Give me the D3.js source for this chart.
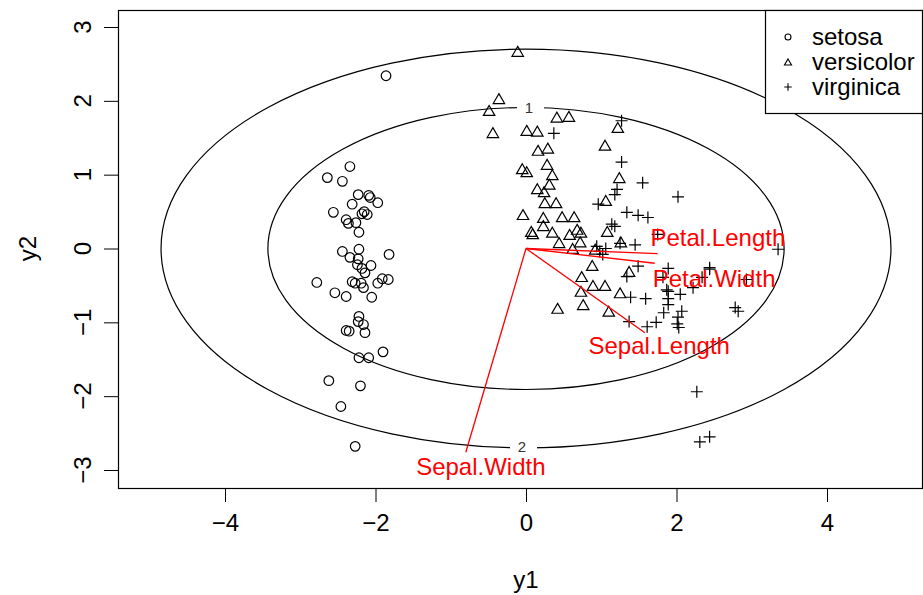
<!DOCTYPE html>
<html>
<head>
<meta charset="utf-8">
<script src="https://cdn.jsdelivr.net/npm/d3@7"></script>
<style>
  body { margin: 0; background: #fff; }
  text { font-family: "Liberation Sans", Arial, sans-serif; }
</style>
</head>
<body>
<div id="main"></div>
<script>
// canonical scores
let setosa = [
  [-1.86, 2.34], [-2.34, 1.11], [-2.64, 0.96], [-2.44, 0.91], [-2.23, 0.73],
  [-2.09, 0.72], [-2.07, 0.69], [-1.97, 0.62], [-2.31, 0.60], [-2.56, 0.49],
  [-2.15, 0.50], [-2.11, 0.46], [-2.18, 0.47], [-2.39, 0.39], [-2.36, 0.34],
  [-2.26, 0.35], [-2.22, 0.22], [-2.44, -0.04], [-2.22, -0.01], [-2.34, -0.12],
  [-1.82, -0.08], [-2.23, -0.14], [-2.24, -0.22], [-2.06, -0.23], [-2.18, -0.27],
  [-2.14, -0.33], [-2.78, -0.46], [-2.31, -0.45], [-2.27, -0.47], [-2.19, -0.47],
  [-2.16, -0.53], [-1.91, -0.41], [-1.83, -0.42], [-1.97, -0.47], [-2.54, -0.60],
  [-2.39, -0.65], [-2.05, -0.66], [-2.22, -0.92], [-2.23, -0.99], [-2.16, -1.03],
  [-2.39, -1.11], [-2.35, -1.12], [-2.14, -1.14], [-2.22, -1.48], [-2.09, -1.48],
  [-1.90, -1.40], [-2.62, -1.79], [-2.20, -1.86], [-2.46, -2.14], [-2.27, -2.68]
]
let versicolor = [
  [-0.11, 2.67], [-0.36, 2.03], [-0.49, 1.87], [0.41, 1.78], [0.57, 1.79],
  [1.22, 1.64], [-0.44, 1.57], [0.01, 1.60], [0.15, 1.59], [1.05, 1.40],
  [0.16, 1.33], [0.29, 1.36], [0.28, 1.14], [-0.05, 1.08], [0.01, 1.04],
  [0.35, 1.00], [1.24, 0.96], [0.31, 0.87], [0.15, 0.81], [0.24, 0.77],
  [1.06, 0.65], [0.25, 0.62], [0.40, 0.62], [-0.04, 0.46], [0.23, 0.42],
  [0.48, 0.43], [0.64, 0.43], [0.23, 0.31], [0.07, 0.23], [0.09, 0.20],
  [0.35, 0.22], [0.58, 0.19], [0.68, 0.26], [0.73, 0.22], [1.08, 0.23],
  [1.26, 0.09], [0.44, 0.08], [0.62, 0.00], [0.72, 0.09], [0.92, -0.01],
  [0.88, -0.23], [0.74, -0.38], [0.89, -0.50], [1.05, -0.50], [0.73, -0.58],
  [1.25, -0.60], [0.76, -0.76], [0.42, -0.81], [1.10, -0.85], [1.37, -0.31]
]
let virginica = [
  [0.37, 1.56], [1.27, 1.73], [1.27, 1.17], [1.21, 0.80], [1.18, 0.73],
  [0.96, 0.60], [1.55, 0.89], [2.02, 0.70], [1.34, 0.49], [1.49, 0.45],
  [1.62, 0.42], [1.14, 0.33], [1.18, 0.30], [1.75, 0.19], [1.45, 0.05],
  [3.35, -0.01], [0.94, 0.03], [0.98, -0.04], [1.02, -0.08], [1.34, -0.38],
  [1.49, -0.24], [1.39, -0.66], [1.37, -0.99], [1.89, -0.27], [2.44, -0.26],
  [2.34, -0.39], [2.93, -0.42], [1.87, -0.56], [2.05, -0.62], [2.22, -0.53],
  [1.59, -0.68], [1.89, -0.68], [1.89, -0.76], [1.83, -0.87], [2.07, -0.85],
  [2.02, -0.93], [2.01, -1.02], [1.61, -1.06], [1.73, -1.00], [2.78, -0.80],
  [2.82, -0.85], [2.27, -1.94], [2.44, -2.55], [2.31, -2.62], [1.82, -0.39],
  [2.03, -1.07], [1.06, 0.00], [1.25, 0.07], [1.89, -0.58], [2.44, -0.28]
]
let species = ["setosa", "versicolor", "virginica"]

let vecNames = ["Petal.Length", "Petal.Width", "Sepal.Length", "Sepal.Width"]
let vecEnds = [[1.75, -0.07], [1.71, -0.20], [1.58, -1.14], [-0.80, -2.76]]
let vecLabels = [[2.55, 0.15], [2.50, -0.41], [1.77, -1.31], [-0.60, -2.96]]

let ellipseLevels = [1, 2]
let ellipseRx = [3.43, 4.85]
let ellipseRy = [1.91, 2.70]

let xTicks = [-4, -2, 0, 2, 4]
let yTicks = [-3, -2, -1, 0, 1, 2, 3]

let width = 923
let height = 595
let box = { left: 118, right: 922, top: 10, bottom: 488 }

let svg = d3.select('#main')
            .append('svg')
            .attr('width', width)
            .attr('height', height)

let xScale = d3.scaleLinear().domain([-4, 4]).range([225, 827])
let yScale = d3.scaleLinear().domain([-3, 3]).range([470, 27])

let fmt = (d) => d < 0 ? "\u2212" + Math.abs(d) : String(d)

let xAxis = d3.axisBottom(xScale).tickValues(xTicks).tickFormat(fmt).tickSize(14).tickPadding(12)
let yAxis = d3.axisLeft(yScale).tickValues(yTicks).tickFormat(fmt).tickSize(14).tickPadding(6)

let gx = svg.append('g')
            .attr('transform', `translate(0, ${box.bottom})`)
            .call(xAxis)
gx.select('.domain').remove()
gx.selectAll('line').attr('stroke', '#000')
gx.selectAll('text').style('font-size', '24px').attr('fill', '#000')

let gy = svg.append('g')
            .attr('transform', `translate(${box.left}, 0)`)
            .call(yAxis)
gy.select('.domain').remove()
gy.selectAll('line').attr('stroke', '#000')
gy.selectAll('text')
  .style('font-size', '24px')
  .attr('fill', '#000')
  .attr('text-anchor', 'middle')
  .attr('dy', null)
  .attr('x', null)
  .attr('transform', (d) => `translate(-33, ${yScale(d)}) rotate(-90)`)
  .attr('y', 0)
  .attr('dominant-baseline', 'middle')
gy.selectAll('.tick').attr('transform', null)
gy.selectAll('.tick line')
  .attr('y1', (d) => yScale(d) + 0.5)
  .attr('y2', (d) => yScale(d) + 0.5)

svg.append('text')
   .attr('x', xScale(0))
   .attr('y', 588)
   .attr('text-anchor', 'middle')
   .style('font-size', '24px')
   .text('y1')

svg.append('text')
   .attr('transform', `translate(36, ${yScale(0)}) rotate(-90)`)
   .attr('text-anchor', 'middle')
   .style('font-size', '24px')
   .text('y2')

// ellipses with contour labels
let ell = svg.append('g')
ellipseLevels.forEach((lev, i) => {
    ell.append('ellipse')
       .attr('cx', xScale(0))
       .attr('cy', yScale(0))
       .attr('rx', xScale(ellipseRx[i]) - xScale(0))
       .attr('ry', yScale(0) - yScale(ellipseRy[i]))
       .attr('fill', 'none')
       .attr('stroke', '#000')
       .attr('stroke-width', 1.2)
    let ly = i === 0 ? yScale(ellipseRy[i]) : yScale(-ellipseRy[i]) - 1.5
    let lx = xScale(0) + (i === 0 ? 3 : -4)
    ell.append('rect')
       .attr('x', lx - 12)
       .attr('y', ly - 5)
       .attr('width', 27)
       .attr('height', 10)
       .attr('fill', '#fff')
    ell.append('text')
       .attr('x', lx)
       .attr('y', ly)
       .attr('dy', '0.35em')
       .attr('text-anchor', 'middle')
       .attr('fill', '#333')
       .style('font-size', '15px')
       .text(lev)
})

let symbol = (sel, sp, s) => {
    if (sp === 'setosa') {
        sel.append('circle').attr('r', 4.8 * s)
    } else if (sp === 'versicolor') {
        let r = 6.6 * s
        let off = r / 4
        sel.append('path')
           .attr('d', `M0,${-r + off}L${0.866 * r},${r / 2 + off}L${-0.866 * r},${r / 2 + off}Z`)
    } else {
        let a = 6 * s
        sel.append('path').attr('d', `M${-a},0H${a}M0,${-a}V${a}`)
    }
}

let groups = [setosa, versicolor, virginica]
let pts = svg.append('g')
             .attr('fill', 'none')
             .attr('stroke', '#000')
             .attr('stroke-width', 1.2)
groups.forEach((data, i) => {
    pts.selectAll('.p' + i)
       .data(data)
       .enter()
       .append('g')
       .classed('p' + i, true)
       .attr('transform', (d) => `translate(${xScale(d[0])}, ${yScale(d[1])})`)
       .each(function () { symbol(d3.select(this), species[i], 1) })
})

// variable vectors
let vec = svg.append('g')
vec.selectAll('line')
   .data(vecEnds)
   .enter()
   .append('line')
   .attr('x1', xScale(0))
   .attr('y1', yScale(0))
   .attr('x2', (d) => xScale(d[0]))
   .attr('y2', (d) => yScale(d[1]))
   .attr('stroke', '#f00')
   .attr('stroke-width', 1.3)
vec.selectAll('text')
   .data(vecNames)
   .enter()
   .append('text')
   .attr('x', (d, i) => xScale(vecLabels[i][0]))
   .attr('y', (d, i) => yScale(vecLabels[i][1]))
   .attr('dy', '0.35em')
   .attr('text-anchor', 'middle')
   .attr('fill', '#f00')
   .style('font-size', '24px')
   .text((d) => d)

// plot frame
svg.append('rect')
   .attr('x', box.left + 0.5)
   .attr('y', box.top + 0.5)
   .attr('width', box.right - box.left)
   .attr('height', box.bottom - box.top)
   .attr('fill', 'none')
   .attr('stroke', '#000')
   .attr('stroke-width', 1.2)

// legend
let legend = svg.append('g').attr('id', 'legend')
legend.append('rect')
      .attr('x', 765.5)
      .attr('y', box.top + 0.5)
      .attr('width', box.right - 765)
      .attr('height', 103)
      .attr('fill', '#fff')
      .attr('stroke', '#000')
      .attr('stroke-width', 1.2)

let rows = legend.selectAll('.legend-label')
                 .data(species)
                 .enter()
                 .append('g')
                 .classed('legend-label', true)
                 .attr('transform', (d, i) => `translate(788, ${37 + i * 25})`)
rows.append('g')
    .attr('fill', 'none')
    .attr('stroke', '#000')
    .attr('stroke-width', 1.1)
    .each(function (d) { symbol(d3.select(this), d, 0.62) })
rows.append('text')
    .attr('x', 24)
    .attr('dy', '0.35em')
    .style('font-size', '24px')
    .text((d) => d)
</script>
</body>
</html>
